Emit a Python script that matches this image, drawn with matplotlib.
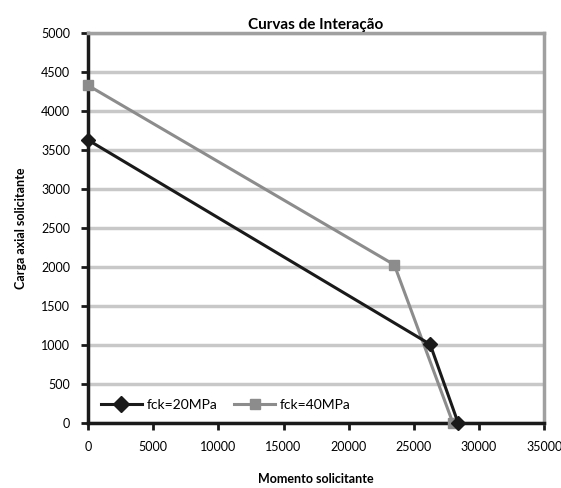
import matplotlib
matplotlib.use("Agg")
import matplotlib.pyplot as plt

momento_20 = [0, 26250, 28400]
carga_20 = [3630, 1010, 0]
momento_40 = [0, 23500, 28000]
carga_40 = [4330, 2030, 0]

plt.rcParams['font.family'] = ['Lato', 'DejaVu Sans']

fig = plt.figure(figsize=(5.61, 4.88), dpi=100)
ax = fig.add_axes([0.157, 0.133, 0.813, 0.799])

ax.plot(momento_20, carga_20, color='#1a1a1a', lw=2.2, marker='D', ms=7,
        label='fck=20MPa', zorder=4, clip_on=False)
ax.plot(momento_40, carga_40, color='#8c8c8c', lw=2.2, marker='s', ms=7,
        label='fck=40MPa', zorder=3, clip_on=False)

ax.set_xlim(0, 35000)
ax.set_ylim(0, 5000)
ax.set_xticks(range(0, 35001, 5000))
ax.set_yticks(range(0, 5001, 500))
ax.yaxis.grid(True, color='#c8c8c8', lw=2.5)
ax.set_axisbelow(True)

for s in ['left', 'bottom']:
    ax.spines[s].set_color('#1a1a1a')
    ax.spines[s].set_linewidth(2.5)
for s in ['top', 'right']:
    ax.spines[s].set_color('#a0a0a0')
    ax.spines[s].set_linewidth(2.5)

ax.tick_params(axis='both', direction='out', length=5, width=2, color='#1a1a1a',
               labelsize=9, pad=8)

ax.set_title('Curvas de Interação', fontsize=11, fontweight='bold', pad=3)
ax.set_xlabel('Momento solicitante', fontsize=9, fontweight='bold', labelpad=14)
ax.set_ylabel('Carga axial solicitante', fontsize=9, fontweight='bold', labelpad=10)

ax.legend(loc='lower left', ncol=2, frameon=False, fontsize=10,
          bbox_to_anchor=(0.0, 0.0), handlelength=3, columnspacing=1.2,
          handletextpad=0.3, markerscale=1.1)

fig.savefig('out.png', dpi=100)
